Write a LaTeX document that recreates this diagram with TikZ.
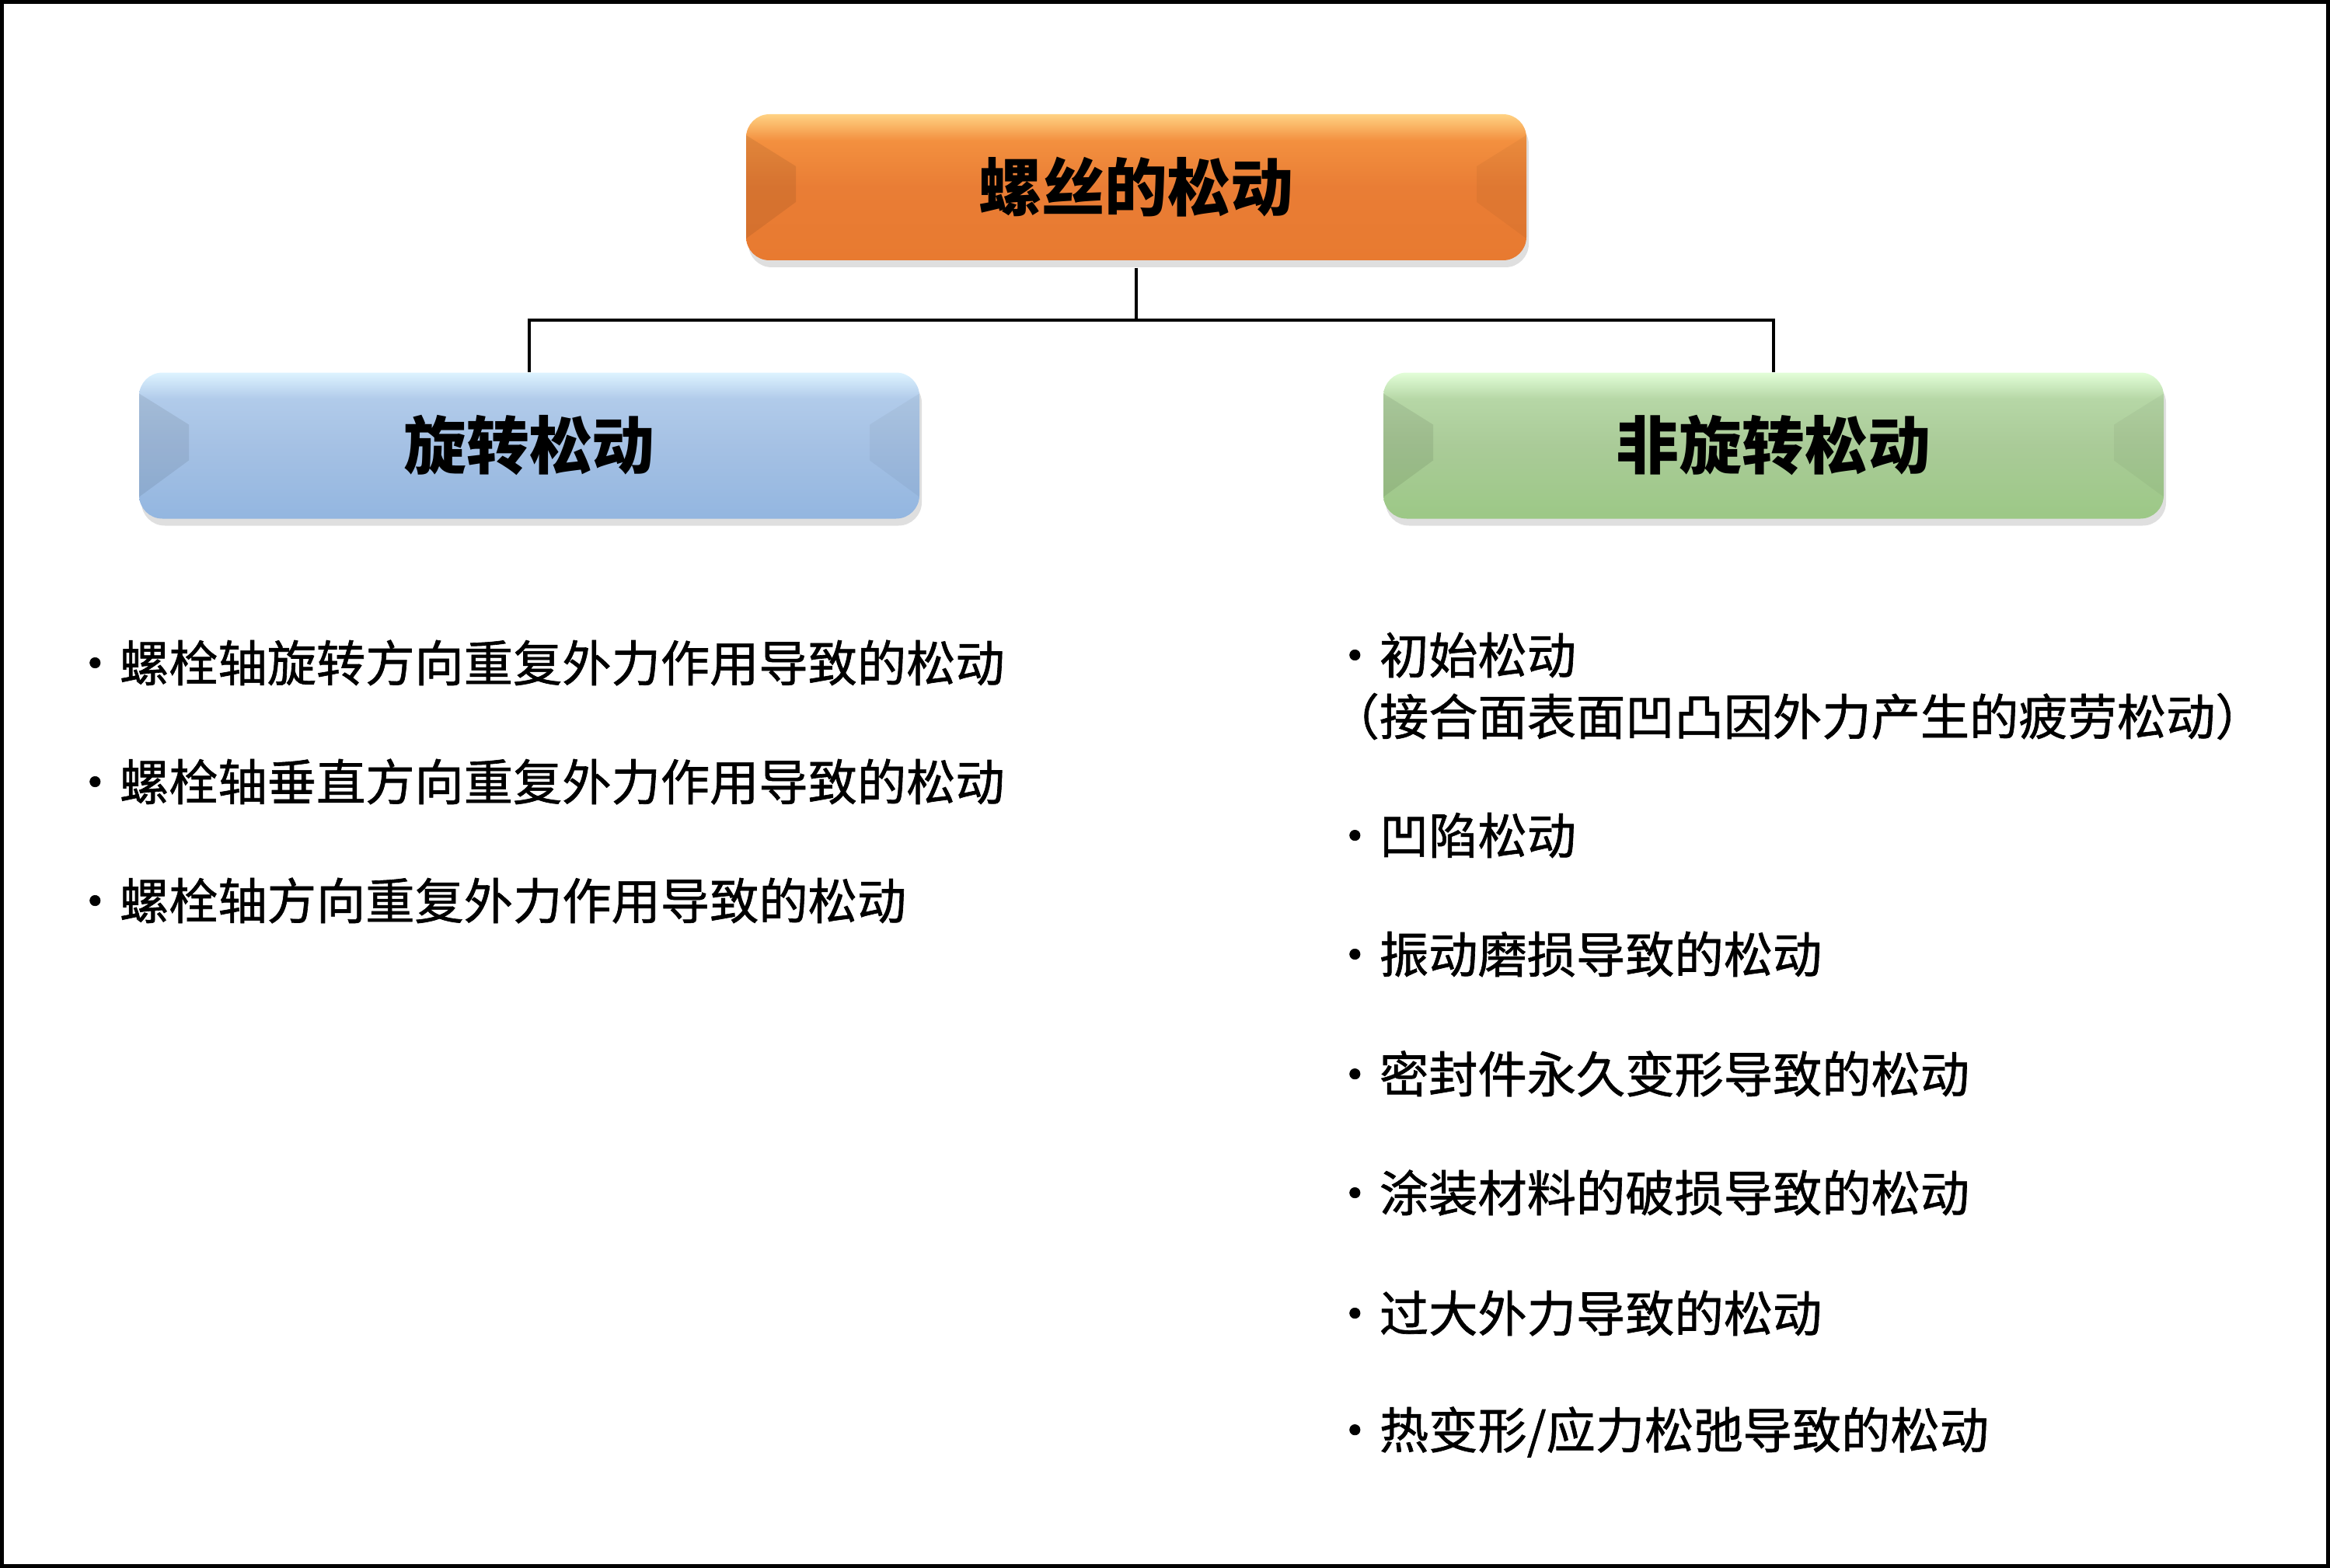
\documentclass[tikz,border=0pt]{standalone}
\usepackage{fontspec}
\setmainfont{Noto Sans CJK SC}
\newfontfamily\listfont{Noto Sans CJK SC}[FakeBold=1]
\usetikzlibrary{shadows}

\definecolor{orgT}{HTML}{FFD283}
\definecolor{orgU}{HTML}{F3903F}
\definecolor{orgM}{HTML}{E97D35}
\definecolor{orgB}{HTML}{E87A30}
\definecolor{bluT}{HTML}{DDF3FF}
\definecolor{bluU}{HTML}{B1CBEA}
\definecolor{bluM}{HTML}{A5C1E4}
\definecolor{bluB}{HTML}{93B6E0}
\definecolor{grnT}{HTML}{E2FED8}
\definecolor{grnU}{HTML}{B6D7A6}
\definecolor{grnM}{HTML}{AACB98}
\definecolor{grnB}{HTML}{9CC886}

\pgfdeclareverticalshading{orgbar}{100bp}{color(0bp)=(orgB); color(25bp)=(orgB); color(50bp)=(orgM); color(66bp)=(orgU); color(75bp)=(orgT); color(100bp)=(orgT)}
\pgfdeclareverticalshading{blubar}{100bp}{color(0bp)=(bluB); color(25bp)=(bluB); color(50bp)=(bluM); color(66bp)=(bluU); color(75bp)=(bluT); color(100bp)=(bluT)}
\pgfdeclareverticalshading{grnbar}{100bp}{color(0bp)=(grnB); color(25bp)=(grnB); color(50bp)=(grnM); color(66bp)=(grnU); color(75bp)=(grnT); color(100bp)=(grnT)}

\begin{document}
\begin{tikzpicture}[
		bar/.style={rounded corners=0.3cm, minimum width=10.04cm, minimum height=1.88cm, inner sep=0pt,
			font=\bfseries\fontsize{23}{28}\selectfont,
			drop shadow={shadow xshift=0.03cm, shadow yshift=-0.09cm, opacity=0.25},
			path picture={
				\fill[sharp corners, black, opacity=0.08] ([yshift=-0.27cm]path picture bounding box.north west) -- ([xshift=0.64cm, yshift=-0.67cm]path picture bounding box.north west) -- ([xshift=0.64cm, yshift=0.75cm]path picture bounding box.south west) -- ([yshift=0.28cm]path picture bounding box.south west) -- cycle;
				\fill[sharp corners, black, opacity=0.04] ([yshift=-0.27cm]path picture bounding box.north east) -- ([xshift=-0.64cm, yshift=-0.67cm]path picture bounding box.north east) -- ([xshift=-0.64cm, yshift=0.75cm]path picture bounding box.south east) -- ([yshift=0.28cm]path picture bounding box.south east) -- cycle;
			}},
		item/.style={anchor=west, inner sep=0pt, font=\listfont\fontsize{18}{22}\selectfont},
		link/.style={line width=1.2pt}
	]
	\useasboundingbox (0,0) rectangle (29.98,-20.18);
	%frame
		\draw[line width=0.05cm] (0.025,-0.025) rectangle (29.955,-20.155);
	%boxes
		\node[bar, shading=orgbar] (root) at (14.62,-2.41) {螺丝的松动};
		\node[bar, shading=blubar] (rot) at (6.81,-5.735) {旋转松动};
		\node[bar, shading=grnbar] (nrot) at (22.82,-5.735) {非旋转松动};
	%connectors
		\coordinate (jn) at (14.62,-4.12);
		\draw[link, shorten <=0.09cm] (root.south) -- (jn);
		\draw[link] (jn) -| (rot.north);
		\draw[link] (jn) -| (nrot.north);
	%rotation list
		\node[item] (r1) at (0.90,-8.53) {・螺栓轴旋转方向重复外力作用导致的松动};
		\node[item] (r2) at (0.90,-10.06) {・螺栓轴垂直方向重复外力作用导致的松动};
		\node[item] (r3) at (0.90,-11.59) {・螺栓轴方向重复外力作用导致的松动};
	%non-rotation list
		\node[item] (n1) at (17.11,-8.43) {・初始松动};
		\node[item] (n1b) at (17.11,-9.22) {（接合面表面凹凸因外力产生的疲劳松动）};
		\node[item] (n2) at (17.11,-10.75) {・凹陷松动};
		\node[item] (n3) at (17.11,-12.28) {・振动磨损导致的松动};
		\node[item] (n4) at (17.11,-13.82) {・密封件永久变形导致的松动};
		\node[item] (n5) at (17.11,-15.35) {・涂装材料的破损导致的松动};
		\node[item] (n6) at (17.11,-16.90) {・过大外力导致的松动};
		\node[item] (n7) at (17.11,-18.43) {・热变形/应力松弛导致的松动};
\end{tikzpicture}
\end{document}
